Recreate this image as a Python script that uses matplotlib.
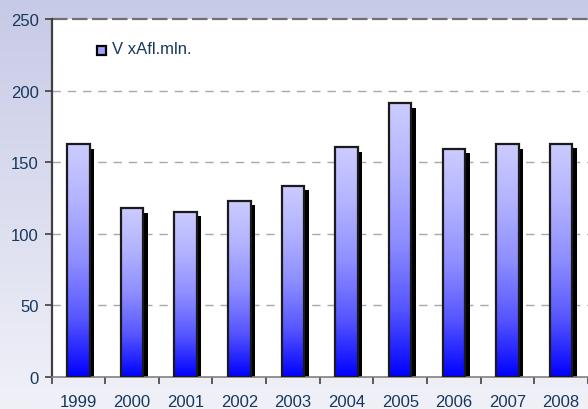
import numpy as np
import matplotlib
matplotlib.use("Agg")
import matplotlib.pyplot as plt
from matplotlib.colors import LinearSegmentedColormap
from matplotlib.transforms import ScaledTranslation
from matplotlib.patches import Rectangle

years = ["1999", "2000", "2001", "2002", "2003", "2004", "2005", "2006", "2007", "2008"]
values = [162.5, 118, 115.5, 123, 133.5, 160.5, 191, 159.5, 162.5, 163]
series_name = "V xAfl.mln."
yticks = [0, 50, 100, 150, 200, 250]

plt.rcParams['font.family'] = ['Liberation Sans', 'DejaVu Sans']
txt_color = "#17375e"

fig = plt.figure(figsize=(5.88, 4.10), dpi=100)

# figure background gradient
bg = fig.add_axes([0, 0, 1, 1], zorder=-10)
bg_cmap = LinearSegmentedColormap.from_list("bg", ["#f0f1f8", "#c7cae6"])
bg.imshow(np.linspace(0, 1, 256).reshape(-1, 1), aspect='auto', cmap=bg_cmap,
          origin='lower', extent=[0, 1, 0, 1])
bg.set_axis_off()

ax = fig.add_axes([51.5 / 588, 32 / 410, 1 - 51.5 / 588, 358 / 410])
ax.set_facecolor("white")
x = np.arange(len(years))

bar_cmap = LinearSegmentedColormap.from_list(
    "bar", [(0.0, "#0000ff"), (0.25, "#5656ff"), (0.5, "#8e8eff"),
            (0.75, "#b2b2ff"), (1.0, "#ccccff")])
width = 0.42

shadow_tr = ax.transData + ScaledTranslation(4.5 / 100, -4.5 / 100, fig.dpi_scale_trans)
ax.bar(x, values, width=width, color="black", zorder=2, transform=shadow_tr)
bars = ax.bar(x, values, width=width, facecolor="none", edgecolor="#1a1a1a",
              linewidth=1.6, zorder=4)
grad = np.linspace(0, 1, 256).reshape(-1, 1)
for b in bars:
    x0, h, w = b.get_x(), b.get_height(), b.get_width()
    ax.imshow(grad, aspect='auto', cmap=bar_cmap, origin='lower',
              extent=[x0, x0 + w, 0, h], zorder=3)
ax.set_xlim(-0.5, len(years) - 0.5)
ax.set_ylim(0, 250)

# grid
for yv in yticks[1:-1]:
    ax.axhline(yv, color="#a8a8a8", lw=1.0, dashes=(6, 5), zorder=1)
ax.axhline(250, color="#707070", lw=1.6, dashes=(7, 2), zorder=1, clip_on=False)

ax.set_yticks(yticks)
ax.set_yticklabels([str(v) for v in yticks], fontsize=12, color=txt_color)
ax.set_xticks(x)
ax.set_xticklabels(years, fontsize=12, color=txt_color)
ax.set_xticks(np.arange(-0.5, len(years) + 0.5, 1), minor=True)
ax.tick_params(axis='x', which='major', length=0, pad=12)
ax.tick_params(axis='x', which='minor', length=5, width=1.2, color="#404040", direction='out')
ax.tick_params(axis='y', length=5, width=1.2, color="#404040", pad=4)

for s in ["top", "right"]:
    ax.spines[s].set_visible(False)
ax.spines["left"].set_color("#404040")
ax.spines["left"].set_linewidth(1.6)
ax.spines["bottom"].set_color("#808080")
ax.spines["bottom"].set_linewidth(1.2)

# legend
fig.patches.append(Rectangle((97 / 588, 1 - 55.5 / 410), 9 / 588, 9 / 410,
                             transform=fig.transFigure, facecolor="#a0a0ff",
                             edgecolor="black", linewidth=1.6, zorder=5))
fig.text(111.5 / 588, 1 - 50 / 410, series_name, fontsize=12, color=txt_color,
         va='center', ha='left')

fig.savefig("out.png", dpi=100)
